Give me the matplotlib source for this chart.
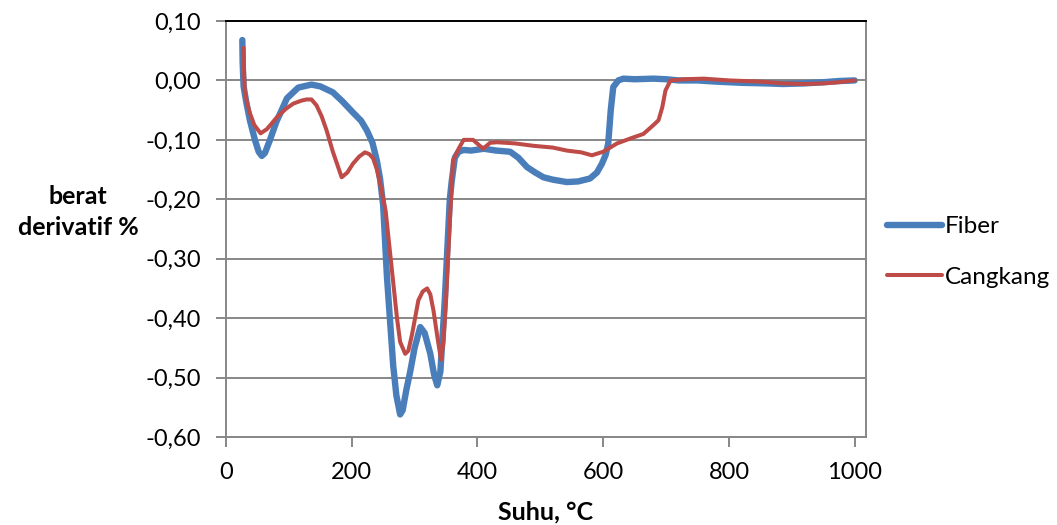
import numpy as np
import matplotlib.pyplot as plt

plt.rcParams['font.family'] = ['Lato', 'DejaVu Sans']

# DTG curves (temperature in °C, derivative weight in %)
fiber_x = [26, 26.5, 28, 32, 38, 46, 52, 57, 62, 70, 80, 97, 115, 136, 150, 170, 185,
           202, 215, 224, 233, 240, 245, 250, 256, 262, 266, 271, 277, 281, 287, 293,
           300, 309, 316, 325, 331, 336, 341, 348, 356, 359, 364, 370, 378, 390, 410,
           430, 452, 465, 479, 492, 505, 520, 542, 560, 579, 590, 598, 604, 608, 612,
           616, 624, 632, 650, 680, 700, 720, 750, 780, 820, 860, 886, 920, 950, 975, 1000]
fiber_y = [0.068, 0.03, -0.01, -0.035, -0.067, -0.10, -0.12, -0.127, -0.122, -0.10,
           -0.07, -0.03, -0.012, -0.007, -0.01, -0.02, -0.035, -0.054, -0.068, -0.084,
           -0.105, -0.135, -0.165, -0.21, -0.33, -0.42, -0.48, -0.53, -0.562, -0.555,
           -0.52, -0.49, -0.45, -0.415, -0.425, -0.46, -0.495, -0.513, -0.49, -0.37,
           -0.2, -0.17, -0.13, -0.12, -0.117, -0.118, -0.115, -0.118, -0.12, -0.13,
           -0.146, -0.155, -0.163, -0.167, -0.171, -0.17, -0.165, -0.155, -0.14, -0.125,
           -0.106, -0.05, -0.011, 0.0, 0.003, 0.002, 0.003, 0.002, 0.0, 0.0, -0.002,
           -0.004, -0.005, -0.006, -0.005, -0.003, -0.001, 0.0]

cangkang_x = [28, 28.5, 30, 34, 38, 45, 55, 65, 81, 95, 107, 120, 128, 136, 144, 152,
              160, 170, 184, 193, 202, 212, 221, 228, 234, 240, 245, 254, 260, 266, 272,
              277, 285, 290, 296, 306, 313, 320, 325, 330, 336, 342, 346, 350, 355, 361,
              370, 378, 393, 409, 420, 431, 460, 489, 520, 542, 565, 582, 600, 622, 645,
              664, 680, 688, 694, 699, 707, 730, 760, 800, 850, 886, 920, 950, 975, 1000]
cangkang_y = [0.055, 0.02, -0.02, -0.04, -0.055, -0.075, -0.089, -0.082, -0.062, -0.048,
              -0.039, -0.034, -0.032, -0.032, -0.042, -0.06, -0.084, -0.12, -0.163,
              -0.155, -0.14, -0.128, -0.121, -0.124, -0.131, -0.15, -0.173, -0.22, -0.28,
              -0.34, -0.4, -0.44, -0.46, -0.455, -0.427, -0.37, -0.355, -0.35, -0.36,
              -0.387, -0.43, -0.47, -0.44, -0.37, -0.26, -0.135, -0.115, -0.10, -0.10,
              -0.115, -0.105, -0.104, -0.106, -0.11, -0.113, -0.118, -0.121, -0.126,
              -0.12, -0.106, -0.097, -0.09, -0.075, -0.067, -0.045, -0.017, 0.0, 0.002,
              0.003, 0.0, -0.002, -0.005, -0.006, -0.005, -0.003, 0.0]

x_ticks = [0, 200, 400, 600, 800, 1000]
y_ticks = [0.10, 0.00, -0.10, -0.20, -0.30, -0.40, -0.50, -0.60]

fig = plt.figure(figsize=(10.57, 5.25), dpi=100)
ax = fig.add_axes([0.2138, 0.1676, 0.6055, 0.7924])

grid_c = '#878787'
ax.plot(fiber_x, fiber_y, color='#4A7EBB', lw=4.6, solid_capstyle='round',
        solid_joinstyle='round', label='Fiber', zorder=3)
ax.plot(cangkang_x, cangkang_y, color='#BE4B48', lw=2.9, solid_capstyle='round',
        solid_joinstyle='round', label='Cangkang', zorder=4)

ax.set_xlim(0, 1018)
ax.set_ylim(-0.60, 0.10)
ax.set_xticks(x_ticks)
ax.set_yticks(y_ticks)
ax.set_yticklabels([f'{v:.2f}'.replace('.', ',').replace('-0,00', '0,00') for v in y_ticks])
ax.yaxis.grid(True, color=grid_c, lw=1.4)
ax.set_axisbelow(True)
for s in ax.spines.values():
    s.set_color(grid_c)
    s.set_linewidth(1.4)
ax.spines['top'].set_color('#000000')
ax.tick_params(axis='both', colors=grid_c, labelcolor='black', labelsize=17,
               length=7, width=1.4, direction='out')
ax.tick_params(axis='y', pad=11)
ax.tick_params(axis='x', pad=11)

fig.text(78 / 1057, 1 - 212 / 525, 'berat\nderivatif %', ha='center', va='center',
         fontsize=18, fontweight='bold', linespacing=1.4)
fig.text(546 / 1057, 1 - 512 / 525, 'Suhu, °C', ha='center', va='center',
         fontsize=18, fontweight='bold')

fig.legend(loc='center left', bbox_to_anchor=(865 / 1057, 1 - 252 / 525), frameon=False,
           fontsize=17.5, handlelength=2.26, handletextpad=0.12, labelspacing=1.2)

fig.savefig('out.png', dpi=100)
